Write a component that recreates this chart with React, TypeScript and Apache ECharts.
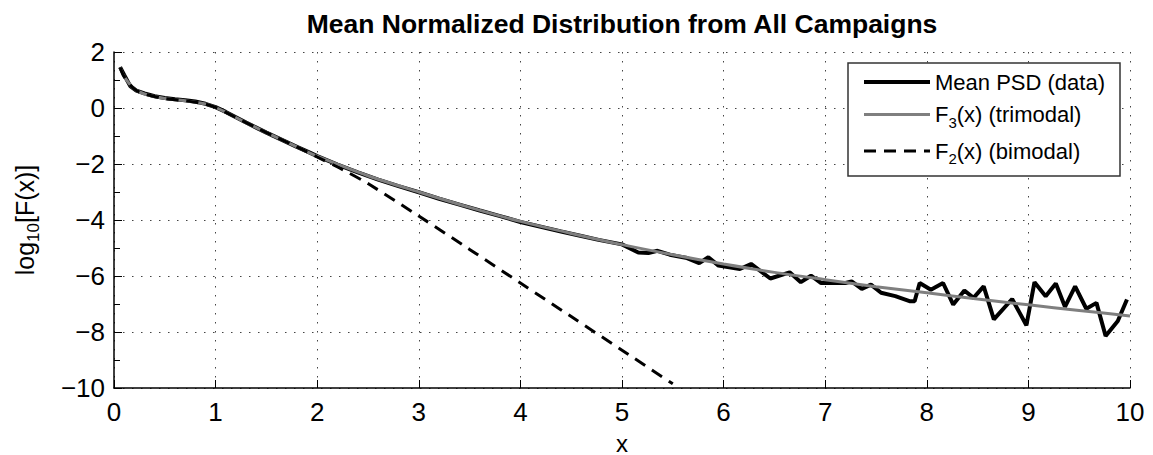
import React, { useEffect, useRef } from "react";
import * as echarts from "echarts";

const dataX = [0.06, 0.1, 0.16, 0.22, 0.3, 0.4, 0.5, 0.6, 0.7, 0.8, 0.9, 1.0, 1.1, 1.2, 1.3, 1.4, 1.5, 1.6, 1.7, 1.8, 1.9, 2.0, 2.2, 2.4, 2.6, 2.8, 3.0, 3.2, 3.4, 3.6, 3.8, 4.0, 4.2, 4.4, 4.6, 4.77, 5.0, 5.16, 5.26, 5.35, 5.47, 5.64, 5.76, 5.85, 5.95, 6.16, 6.27, 6.46, 6.65, 6.76, 6.86, 6.96, 7.2, 7.26, 7.36, 7.45, 7.55, 7.69, 7.83, 7.88, 7.93, 8.04, 8.16, 8.26, 8.37, 8.46, 8.56, 8.66, 8.84, 8.98, 9.06, 9.17, 9.27, 9.36, 9.46, 9.57, 9.67, 9.76, 9.88, 9.97];
const dataY = [1.46, 1.18, 0.78, 0.62, 0.52, 0.42, 0.36, 0.31, 0.28, 0.23, 0.15, 0.03, -0.14, -0.33, -0.52, -0.7, -0.88, -1.05, -1.22, -1.39, -1.55, -1.72, -2.02, -2.3, -2.56, -2.79, -3.01, -3.24, -3.45, -3.66, -3.86, -4.07, -4.24, -4.41, -4.57, -4.71, -4.87, -5.16, -5.18, -5.1, -5.24, -5.36, -5.54, -5.33, -5.63, -5.75, -5.57, -6.09, -5.87, -6.22, -5.99, -6.25, -6.25, -6.19, -6.46, -6.31, -6.6, -6.72, -6.9, -6.9, -6.25, -6.49, -6.25, -7.02, -6.52, -6.78, -6.37, -7.55, -6.82, -7.76, -6.22, -6.72, -6.27, -7.1, -6.37, -7.17, -6.96, -8.14, -7.61, -6.84];

const f3X = [0.06, 0.1, 0.2, 0.3, 0.5, 0.7, 0.9, 1.0, 1.2, 1.4, 1.6, 1.8, 2.0, 2.5, 3.0, 3.5, 4.0, 4.5, 5.0, 5.5, 6.0, 6.5, 7.0, 7.5, 8.0, 8.5, 9.0, 9.5, 10.0];
const f3Y = [1.45, 1.12, 0.68, 0.5, 0.34, 0.26, 0.14, 0.02, -0.34, -0.7, -1.05, -1.39, -1.72, -2.42, -3.0, -3.55, -4.05, -4.48, -4.88, -5.24, -5.57, -5.87, -6.13, -6.38, -6.6, -6.82, -7.03, -7.23, -7.43];

const f2X = [0.06, 0.1, 0.2, 0.3, 0.5, 0.7, 0.9, 1.0, 1.2, 1.4, 1.6, 1.8, 2.0, 2.25, 2.5, 3.0, 3.5, 4.0, 4.5, 5.0, 5.5];
const f2Y = [1.45, 1.12, 0.68, 0.5, 0.34, 0.26, 0.14, 0.02, -0.34, -0.7, -1.05, -1.39, -1.75, -2.2, -2.7, -3.86, -5.05, -6.25, -7.45, -8.65, -9.85];

const seriesNames = ["Mean PSD (data)", "F3(x) (trimodal)", "F2(x) (bimodal)"];
const xTicks = { min: 0, max: 10, step: 1 };
const yTicks = { min: -10, max: 2, step: 2 };

const FONT = "'Liberation Sans', Arial, Helvetica, sans-serif";

const zip = (xs: number[], ys: number[]) => xs.map((x, i) => [x, ys[i]]);

export default function App() {
  const ref = useRef<HTMLDivElement>(null);
  useEffect(() => {
    if (!ref.current) return;
    const chart = echarts.init(ref.current, null, { renderer: "svg" });
    const legendFmt: Record<string, string> = {
      [seriesNames[0]]: "{a|Mean PSD (data)}",
      [seriesNames[1]]: "{a|F}{s|3}{a|(x) (trimodal)}",
      [seriesNames[2]]: "{a|F}{s|2}{a|(x) (bimodal)}",
    };
    const grid = "#444";
    chart.setOption({
      animation: false,
      backgroundColor: "#fff",
      title: {
        text: "Mean Normalized Distribution from All Campaigns",
        left: 617,
        textAlign: "center",
        top: 5,
        textStyle: { fontFamily: FONT, fontSize: 26.5, fontWeight: "bold", color: "#000" },
      },
      grid: { left: 114, right: 23, top: 52, bottom: 67, containLabel: false, outerBoundsMode: "none" },
      graphic: [
        {
          type: "rect",
          z: 3,
          shape: { x: 848, y: 63, width: 272, height: 113 },
          style: { fill: "#fff", stroke: "#333", lineWidth: 1.5 },
        },
      ],
      legend: {
        orient: "vertical",
        left: 848,
        top: 63,
        z: 5,
        padding: [8, 10, 8, 14],
        itemWidth: 66,
        itemHeight: 14,
        itemGap: 10.5,
        itemStyle: { opacity: 0 },
        lineStyle: { width: "inherit" },
        data: seriesNames,
        formatter: (n: string) => legendFmt[n],
        textStyle: {
          fontFamily: FONT,
          rich: {
            a: { fontFamily: FONT, fontSize: 22, lineHeight: 30, color: "#000" },
            s: { fontFamily: FONT, fontSize: 15, lineHeight: 15, verticalAlign: "bottom", color: "#000" },
          },
        },
      },
      xAxis: {
        type: "value",
        min: xTicks.min,
        max: xTicks.max,
        interval: xTicks.step,
        name: "x",
        nameLocation: "middle",
        nameGap: 45,
        nameTextStyle: { fontFamily: FONT, fontSize: 24, lineHeight: 20, color: "#000" },
        axisLine: { show: true, onZero: false, lineStyle: { color: "#000", width: 1.5 } },
        axisTick: { show: true, inside: true, length: 8, lineStyle: { color: "#000", width: 1 } },
        axisLabel: { fontFamily: FONT, fontSize: 26, color: "#000", margin: 11 },
        splitLine: { show: true, lineStyle: { color: grid, width: 1, type: [1.5, 7.5] } },
      },
      yAxis: {
        type: "value",
        min: yTicks.min,
        max: yTicks.max,
        interval: yTicks.step,
        name: "{a|log}{s|10}{a|[F(x)]}",
        nameLocation: "middle",
        nameRotate: 90,
        nameGap: 72,
        nameTextStyle: {
          fontFamily: FONT,
          color: "#000",
          rich: {
            a: { fontFamily: FONT, fontSize: 25, lineHeight: 34, color: "#000" },
            s: { fontFamily: FONT, fontSize: 17, lineHeight: 17, verticalAlign: "bottom", color: "#000" },
          },
        },
        axisLine: { show: true, onZero: false, lineStyle: { color: "#000", width: 1.5 } },
        axisTick: { show: true, inside: true, length: 8, lineStyle: { color: "#000", width: 1 } },
        minorTick: { show: true, splitNumber: 2, length: 6, lineStyle: { color: "#000", width: 1 } },
        axisLabel: {
          fontFamily: FONT,
          fontSize: 26,
          color: "#000",
          margin: 9,
          formatter: (v: number) => (v < 0 ? "\u2212" + Math.abs(v) : String(v)),
        },
        splitLine: { show: true, lineStyle: { color: grid, width: 1, type: [1.5, 7.5] } },
      },
      series: [
        {
          name: seriesNames[0],
          type: "line",
          data: zip(dataX, dataY),
          showSymbol: false,
          symbol: "none",
          lineStyle: { color: "#000", width: 4 },
          itemStyle: { color: "#000" },
          z: 2,
        },
        {
          name: seriesNames[1],
          type: "line",
          data: zip(f3X, f3Y),
          showSymbol: false,
          symbol: "none",
          smooth: 0.3,
          lineStyle: { color: "#7f7f7f", width: 3 },
          itemStyle: { color: "#7f7f7f" },
          z: 3,
        },
        {
          name: seriesNames[2],
          type: "line",
          data: zip(f2X, f2Y),
          showSymbol: false,
          symbol: "none",
          smooth: 0.3,
          lineStyle: { color: "#000", width: 3, type: [12, 8] },
          itemStyle: { color: "#000" },
          z: 4,
        },
      ],
    });
    return () => chart.dispose();
  }, []);
  return (
    <div
      ref={ref}
      style={{ position: "fixed", left: 0, top: 0, width: 1153, height: 455, background: "#fff" }}
    />
  );
}
